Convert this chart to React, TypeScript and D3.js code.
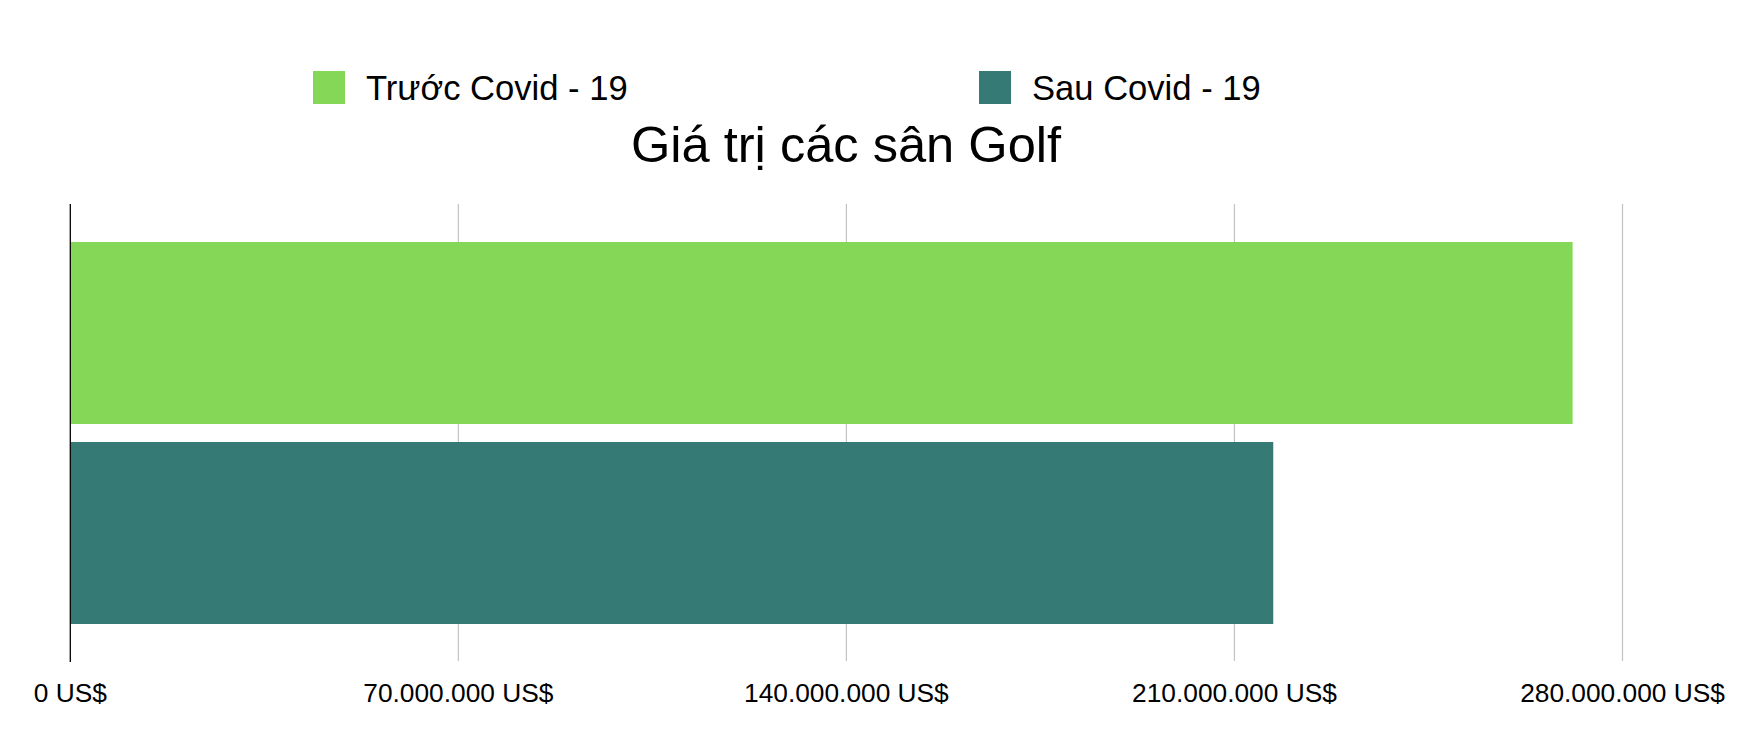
import * as d3 from "d3";

const categories = ["Trước Covid - 19", "Sau Covid - 19"];
const values = [271000000, 217000000];
const colors = ["#85d857", "#367a76"];
const tickValues = [0, 70000000, 140000000, 210000000, 280000000];
const title = "Giá trị các sân Golf";

const W = 1746;
const H = 756;
const FONT = "'Liberation Sans', Arial, Helvetica, sans-serif";

const viLocale = d3.formatLocale({
  decimal: ",",
  thousands: ".",
  grouping: [3],
  currency: ["", " US$"],
});
const fmt = viLocale.format("$,.0f");

export default function App() {
  const x = d3.scaleLinear().domain([0, 280000000]).range([70.3, 1622.5]);
  const y = d3
    .scaleBand<string>()
    .domain(categories)
    .range([204, 662])
    .paddingInner(0.09)
    .paddingOuter(0.19);

  // legend positions: two entries spread across the top
  const legendX = d3.scalePoint<string>().domain(categories).range([313, 979]);

  return (
    <svg
      width={W}
      height={H}
      viewBox={`0 0 ${W} ${H}`}
      style={{ position: "absolute", left: 0, top: 0, background: "#fff" }}
      fontFamily={FONT}
    >
      {categories.map((c, i) => (
        <g key={c} transform={`translate(${legendX(c)},71)`}>
          <rect width={32} height={33} fill={colors[i]} />
          <text x={53} y={29} fontSize={34.6} fill="#000">
            {c}
          </text>
        </g>
      ))}

      <text x={846} y={162} textAnchor="middle" fontSize={50.6} fill="#000">
        {title}
      </text>

      {tickValues.slice(1).map((t) => (
        <line key={t} x1={x(t)} x2={x(t)} y1={204} y2={661} stroke="#c3c3c3" strokeWidth={1.2} />
      ))}

      {categories.map((c, i) => (
        <rect
          key={c}
          x={x(0)}
          y={y(c)}
          width={x(values[i]) - x(0)}
          height={y.bandwidth()}
          fill={colors[i]}
        />
      ))}

      <line x1={x(0)} x2={x(0)} y1={204} y2={662} stroke="#000" strokeWidth={1.3} />

      {tickValues.map((t) => (
        <text key={t} x={x(t)} y={702} textAnchor="middle" fontSize={26.3} fill="#000">
          {fmt(t)}
        </text>
      ))}
    </svg>
  );
}
